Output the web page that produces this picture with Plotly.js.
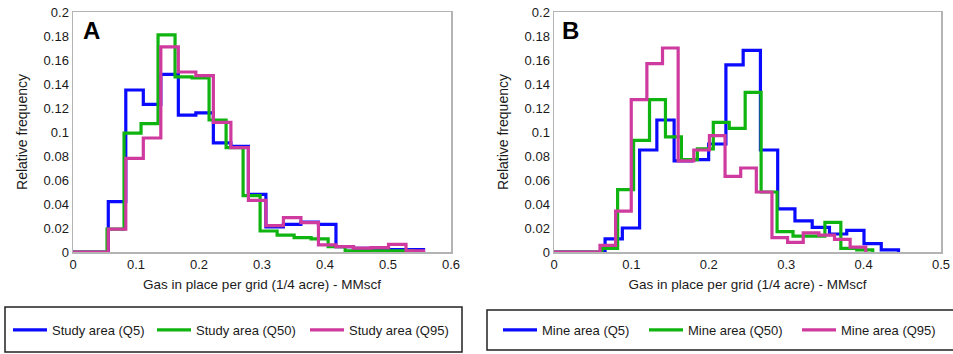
<!DOCTYPE html>
<html>
<head>
<meta charset="utf-8">
<script src="https://cdn.plot.ly/plotly-3.0.1.min.js"></script>
<style>
  html, body { margin: 0; padding: 0; background: #ffffff; }
  #chart { width: 953px; height: 354px; }
</style>
</head>
<body>
<div id="chart"></div>
<script>
// Histogram bins: left edge of the first bin, bin width, relative frequency per bin.

// Panel A - study area
const studyQ5Start = 0.056, studyQ5Width = 0.0278;
const studyQ5 = [0.042, 0.135, 0.123, 0.148, 0.114, 0.116, 0.091, 0.088, 0.048,
                 0.021, 0.023, 0.025, 0.023, 0.0045, 0.003, 0.003, 0.002, 0.002];
const studyQ50Start = 0.054, studyQ50Width = 0.027;
const studyQ50 = [0.019, 0.099, 0.107, 0.181, 0.146, 0.145, 0.110, 0.087, 0.047,
                  0.0175, 0.014, 0.012, 0.011, 0.0045, 0.001, 0.001, 0.001, 0.001];
const studyQ95Start = 0.056, studyQ95Width = 0.0278;
const studyQ95 = [0.019, 0.078, 0.095, 0.171, 0.150, 0.147, 0.108, 0.087, 0.043,
                  0.022, 0.0286, 0.0245, 0.006, 0.0045, 0.0033, 0.0036, 0.0064, 0.001];

// Panel B - mine area
const mineQ5Start = 0.066, mineQ5Width = 0.0223;
const mineQ5 = [0.011, 0.020, 0.085, 0.110, 0.076, 0.077, 0.090, 0.156, 0.168,
                0.085, 0.036, 0.026, 0.0205, 0.015, 0.018, 0.007, 0.0017];
const mineQ50Start = 0.0616, mineQ50Width = 0.0206;
const mineQ50 = [0.003, 0.052, 0.093, 0.127, 0.096, 0.077, 0.086, 0.108, 0.103,
                 0.133, 0.050, 0.017, 0.0133, 0.0133, 0.0247, 0.003, 0.0017];
const mineQ95Start = 0.0594, mineQ95Width = 0.0202;
const mineQ95 = [0.0055, 0.034, 0.127, 0.157, 0.170, 0.076, 0.085, 0.097, 0.063,
                 0.070, 0.050, 0.012, 0.008, 0.016, 0.014, 0.0106, 0.004];

const studyNames = ['Study area (Q5)', 'Study area (Q50)', 'Study area (Q95)'];
const mineNames = ['Mine area (Q5)', 'Mine area (Q50)', 'Mine area (Q95)'];

const BLUE = '#0a0aff', GREEN = '#10b410', PINK = '#cf3a9e';
const FONT = 'Liberation Sans, Arial, Helvetica, sans-serif';

// Outline of a histogram as a stepped line starting from zero at the origin.
function stepTrace(start, width, freqs, name, color, xa, ya, legend) {
  const x = [0], y = [0];
  for (let i = 0; i < freqs.length; i++) {
    x.push(start + i * width);
    y.push(freqs[i]);
  }
  x.push(start + freqs.length * width);
  y.push(0);
  return {
    type: 'scatter', mode: 'lines', x: x, y: y, name: name,
    line: { color: color, width: 3.2, shape: 'hv' },
    xaxis: xa, yaxis: ya, legend: legend, hoverinfo: 'x+y'
  };
}

// Each legend entry gets its own legend so the entries can be spaced freely.
const traces = [
  stepTrace(studyQ5Start, studyQ5Width, studyQ5, studyNames[0], BLUE, 'x', 'y', 'legend'),
  stepTrace(studyQ50Start, studyQ50Width, studyQ50, studyNames[1], GREEN, 'x', 'y', 'legend2'),
  stepTrace(studyQ95Start, studyQ95Width, studyQ95, studyNames[2], PINK, 'x', 'y', 'legend3'),
  stepTrace(mineQ5Start, mineQ5Width, mineQ5, mineNames[0], BLUE, 'x2', 'y2', 'legend4'),
  stepTrace(mineQ50Start, mineQ50Width, mineQ50, mineNames[1], GREEN, 'x2', 'y2', 'legend5'),
  stepTrace(mineQ95Start, mineQ95Width, mineQ95, mineNames[2], PINK, 'x2', 'y2', 'legend6')
];

const W = 953, H = 354;
const px = v => v / W;
const py = v => (H - v) / H;

const xTitle = 'Gas in place per grid (1/4 acre) - MMscf';
const yTitle = 'Relative frequency';

function xAxis(domain, max, anchor) {
  return {
    domain: domain, range: [0, max], dtick: 0.1, tick0: 0, anchor: anchor,
    showgrid: false, zeroline: false, ticks: '',
    showline: true, mirror: true, linecolor: '#b4b4b4', linewidth: 1.5,
    tickfont: { family: FONT, size: 13, color: '#1a1a1a' },
    title: { text: xTitle, font: { family: FONT, size: 13.5, color: '#1a1a1a' }, standoff: 8 }
  };
}
function yAxis(anchor) {
  return {
    domain: [py(252), py(12)], range: [0, 0.2], dtick: 0.02, tick0: 0, anchor: anchor,
    showgrid: false, zeroline: false, ticks: '',
    showline: true, mirror: true, linecolor: '#b4b4b4', linewidth: 1.5,
    tickfont: { family: FONT, size: 13, color: '#1a1a1a' },
    title: { text: yTitle, font: { family: FONT, size: 14, color: '#1a1a1a' }, standoff: 12 }
  };
}

function legendAt(xPix) {
  return {
    orientation: 'h', yanchor: 'middle', xanchor: 'left',
    x: px(xPix), y: py(330), itemwidth: 34,
    bgcolor: 'rgba(0,0,0,0)', borderwidth: 0,
    font: { family: FONT, size: 13, color: '#1a1a1a' }
  };
}

const layout = {
  width: W, height: H,
  margin: { l: 0, r: 0, t: 0, b: 0 },
  paper_bgcolor: '#ffffff', plot_bgcolor: '#ffffff',
  font: { family: FONT, color: '#1a1a1a' },
  xaxis: xAxis([px(73), px(451)], 0.6, 'y'),
  yaxis: yAxis('x'),
  xaxis2: xAxis([px(554), px(941)], 0.5, 'y2'),
  yaxis2: yAxis('x2'),
  legend: legendAt(8),
  legend2: legendAt(152),
  legend3: legendAt(305),
  legend4: legendAt(498),
  legend5: legendAt(644),
  legend6: legendAt(797),
  shapes: [
    { type: 'rect', xref: 'paper', yref: 'paper', x0: px(5), x1: px(462), y0: py(352), y1: py(307),
      line: { color: '#222', width: 1.5 } },
    { type: 'rect', xref: 'paper', yref: 'paper', x0: px(487), x1: px(958), y0: py(350), y1: py(310),
      line: { color: '#222', width: 1.5 } }
  ],
  annotations: [
    { text: '<b>A</b>', xref: 'paper', yref: 'paper', x: px(81), y: py(30), xanchor: 'left', yanchor: 'middle',
      showarrow: false, font: { family: FONT, size: 24, color: '#000' } },
    { text: '<b>B</b>', xref: 'paper', yref: 'paper', x: px(560), y: py(30), xanchor: 'left', yanchor: 'middle',
      showarrow: false, font: { family: FONT, size: 24, color: '#000' } }
  ],
  showlegend: true
};

Plotly.newPlot('chart', traces, layout, { displayModeBar: false, staticPlot: true });
</script>
</body>
</html>
